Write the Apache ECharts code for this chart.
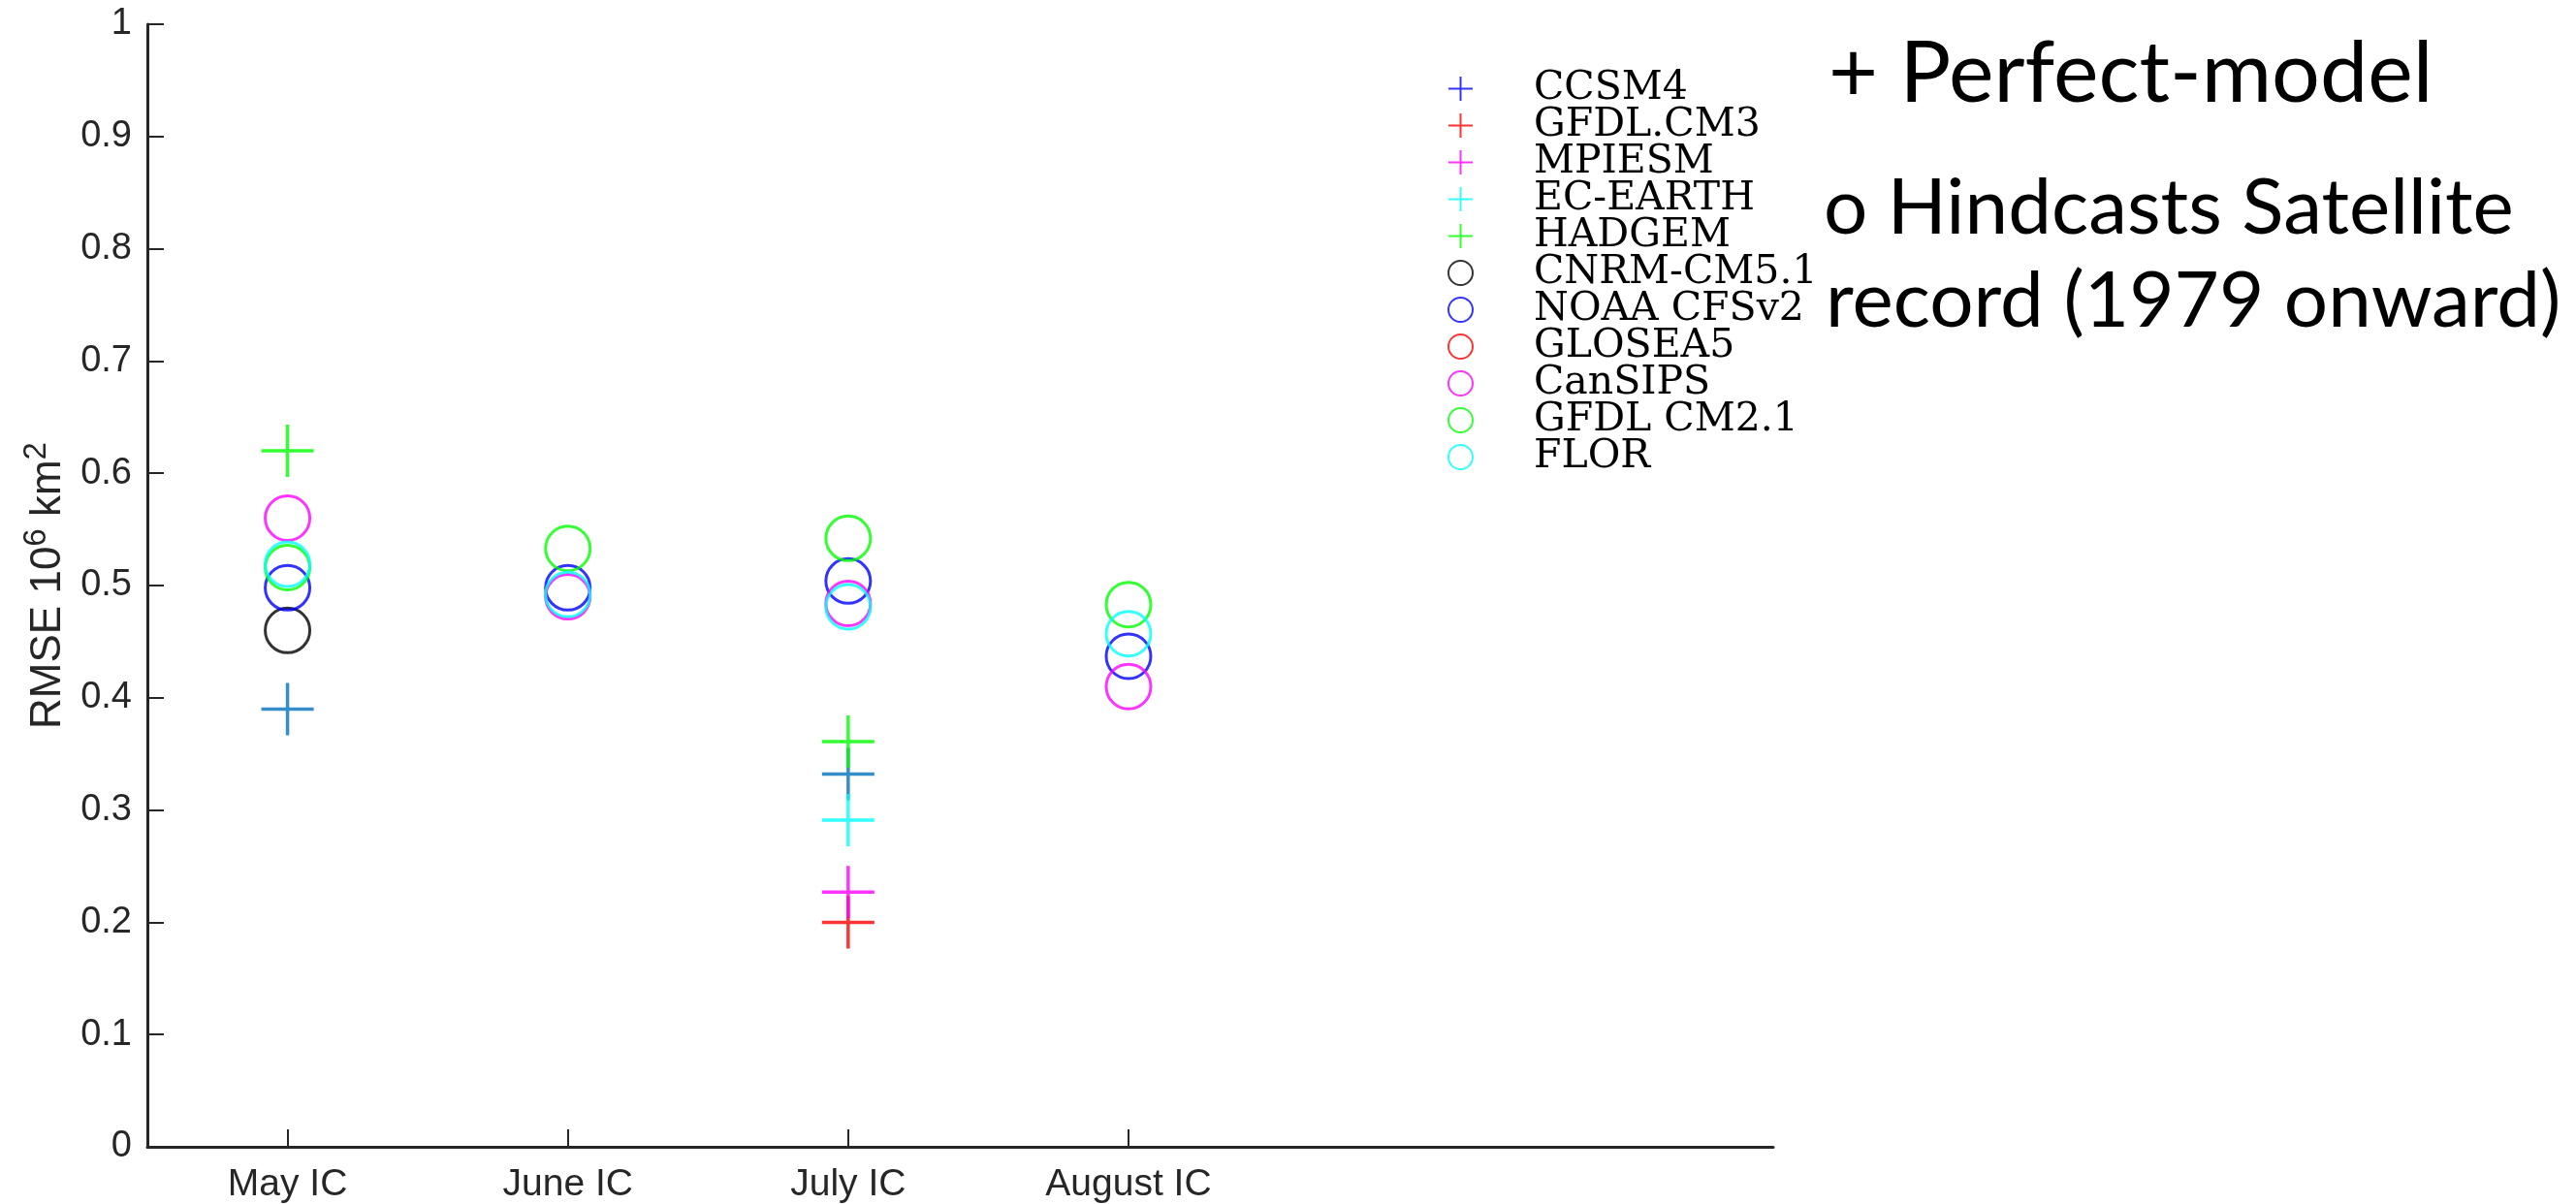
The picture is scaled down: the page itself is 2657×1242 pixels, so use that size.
<!DOCTYPE html>
<html><head><meta charset="utf-8">
<script src="https://cdn.jsdelivr.net/npm/echarts@6/dist/echarts.min.js"></script>
<style>html,body{margin:0;padding:0;background:#fff}#c{width:2657px;height:1242px}</style>
</head><body><div id="c"></div>
<script>
// ---- data ----
const categories = ['May IC', 'June IC', 'July IC', 'August IC'];
// perfect-model (+)
const ccsm4    = [0.390, null, 0.332, null];
const gfdlCM3  = [null, null, 0.200, null];
const mpiesm   = [null, null, 0.227, null];
const ecEarth  = [null, null, 0.291, null];
const hadgem   = [0.620, null, 0.361, null];
// hindcasts (o)
const cnrm     = [0.460, null, null, null];
const noaa     = [0.498, 0.498, 0.504, 0.437];
const glosea5  = [null, null, null, null];
const cansips  = [0.560, 0.490, 0.484, 0.410];
const gfdlCM21 = [0.516, 0.533, 0.542, 0.483];
const flor     = [0.519, 0.492, 0.481, 0.457];
const annotationLines = ['+ Perfect-model', 'o Hindcasts Satellite', 'record (1979 onward)'];

// ---- styles ----
const PLUS = 'path://M10,0L10,20M0,10L20,10';
const CIRC = 'circle';
const defs = [
  {name: 'CCSM4',      vals: ccsm4,    sym: PLUS, color: '#0072BD', legendColor: '#0000FF'},
  {name: 'GFDL.CM3',   vals: gfdlCM3,  sym: PLUS, color: '#FF0000'},
  {name: 'MPIESM',     vals: mpiesm,   sym: PLUS, color: '#FF00FF'},
  {name: 'EC-EARTH',   vals: ecEarth,  sym: PLUS, color: '#00FFFF'},
  {name: 'HADGEM',     vals: hadgem,   sym: PLUS, color: '#00FF00'},
  {name: 'CNRM-CM5.1', vals: cnrm,     sym: CIRC, color: '#000000'},
  {name: 'NOAA CFSv2', vals: noaa,     sym: CIRC, color: '#0000FF'},
  {name: 'GLOSEA5',    vals: glosea5,  sym: CIRC, color: '#FF0000'},
  {name: 'CanSIPS',    vals: cansips,  sym: CIRC, color: '#FF00FF'},
  {name: 'GFDL CM2.1', vals: gfdlCM21, sym: CIRC, color: '#00FF00'},
  {name: 'FLOR',       vals: flor,     sym: CIRC, color: '#00FFFF'}
];
function toPoints(vals) {
  const out = [];
  vals.forEach((v, i) => { if (v != null) out.push([i + 1, v]); });
  return out;
}
const tickPos = categories.map((_, i) => i + 1);
const axisCol = '#262626';

const chart = echarts.init(document.getElementById('c'), null, {renderer: 'canvas'});
chart.setOption({
  animation: false,
  backgroundColor: '#fff',
  grid: {left: 152, right: 828, top: 25, bottom: 59, containLabel: false},
  xAxis: {
    type: 'value', min: 0.5, max: 6.3,
    splitLine: {show: false},
    axisLine: {show: true, onZero: false, lineStyle: {color: axisCol, width: 3}},
    axisTick: {show: true, inside: true, length: 18, customValues: tickPos, lineStyle: {color: axisCol, width: 2}},
    axisLabel: {customValues: tickPos, formatter: v => categories[Math.round(v) - 1] || '',
      fontFamily: 'Liberation Sans', fontSize: 39, color: axisCol, margin: 20}
  },
  yAxis: {
    type: 'value', min: 0, max: 1, interval: 0.1,
    splitLine: {show: false},
    axisLine: {show: true, lineStyle: {color: axisCol, width: 3}},
    axisTick: {show: true, inside: true, length: 17, lineStyle: {color: axisCol, width: 2}},
    axisLabel: {fontFamily: 'Liberation Sans', fontSize: 38, color: axisCol, margin: 16},
    name: '{n|RMSE 10}{s|6}{n| km}{s|2}',
    nameLocation: 'middle', nameRotate: 90, nameGap: 80,
    nameTextStyle: {
      rich: {
        n: {fontFamily: 'Liberation Sans', fontSize: 44, color: axisCol, verticalAlign: 'bottom'},
        s: {fontFamily: 'Liberation Sans', fontSize: 33, color: axisCol, verticalAlign: 'bottom', padding: [0, 0, 18, 0]}
      }
    }
  },
  legend: {
    orient: 'vertical', left: 1488, top: 66,
    itemWidth: 25, itemHeight: 25, itemGap: -3,
    selectedMode: false,
    itemStyle: {borderWidth: 2},
    textStyle: {fontFamily: 'DejaVu Serif', fontSize: 41, color: '#000', padding: [0, 0, 0, 58]},
    data: defs.map(d => ({name: d.name, itemStyle: {borderColor: d.legendColor || d.color, color: 'rgba(0,0,0,0)'}}))
  },
  graphic: [
    {type: 'text', x: 1886, y: 77, silent: true, style: {text: annotationLines[0], fontFamily: 'Lato', fontSize: 88, fill: '#000', verticalAlign: 'middle', align: 'left'}},
    {type: 'text', x: 1881, y: 215, silent: true, style: {text: annotationLines[1], fontFamily: 'Lato', fontSize: 80, fill: '#000', verticalAlign: 'middle', align: 'left'}},
    {type: 'text', x: 1883, y: 311, silent: true, style: {text: annotationLines[2], fontFamily: 'Lato', fontSize: 80, fill: '#000', verticalAlign: 'middle', align: 'left'}}
  ],
  series: defs.map((d, i) => ({
    type: 'scatter', name: d.name, data: toPoints(d.vals),
    symbol: d.sym, symbolSize: d.sym === PLUS ? 54 : 46,
    itemStyle: {color: 'rgba(0,0,0,0)', borderColor: d.color, borderWidth: d.sym === PLUS ? 3.5 : 3},
    emphasis: {disabled: true}, silent: true, z: 2 + i
  }))
});
</script></body></html>
